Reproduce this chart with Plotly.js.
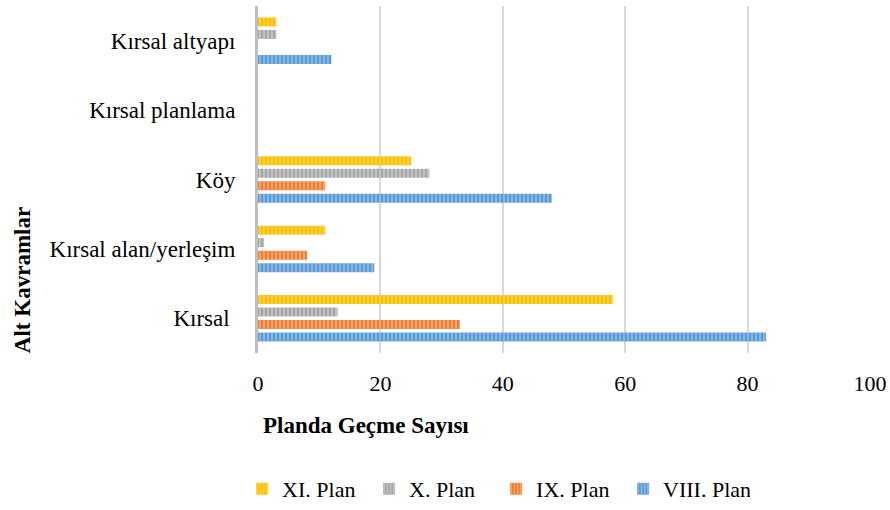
<!DOCTYPE html>
<html>
<head>
<meta charset="utf-8">
<script src="https://cdn.plot.ly/plotly-3.0.1.min.js"></script>
</head>
<body style="margin:0;background:#fff">
<div id="chart" style="width:890px;height:510px"></div>
<script>
const categories = ["Kırsal ", "Kırsal alan/yerleşim", "Köy", "Kırsal planlama", "Kırsal altyapı"];
const seriesNames = ["VIII. Plan", "IX. Plan", "X. Plan", "XI. Plan"];
const planVIII = [83, 19, 48, 0, 12];
const planIX = [33, 8, 11, 0, 0];
const planX = [13, 1, 28, 0, 3];
const planXI = [58, 11, 25, 0, 3];
const xTicks = [0, 20, 40, 60, 80, 100];

const baseColors = ["#5B9BD5", "#ED7D31", "#A5A5A5", "#FFC000"];
const stripeColors = ["#8DB9E4", "#F4A775", "#C6C6C6", "#FFD34D"];
const values = [planVIII, planIX, planX, planXI];

const FF = "Liberation Serif";
const FS = 22;
const FL = 23;

const traces = values.map((v, i) => ({
  type: "bar",
  orientation: "h",
  name: seriesNames[i],
  y: categories,
  x: v,
  marker: {
    color: baseColors[i],
    line: {width: 0},
    pattern: {shape: "|", fgcolor: stripeColors[i], bgcolor: baseColors[i], size: 4, solidity: 0.45}
  },
  hoverinfo: "x+name"
}));

const layout = {
  width: 890, height: 510,
  margin: {l: 258, r: 20, t: 6, b: 157},
  paper_bgcolor: "#fff", plot_bgcolor: "#fff",
  barmode: "group",
  bargap: 0.28,
  bargroupgap: 0.28,
  font: {family: FF, size: FS, color: "#000"},
  xaxis: {
    range: [0, 100],
    tickvals: xTicks,
    ticktext: xTicks.map(String),
    showgrid: true, gridcolor: "#D9D9D9", gridwidth: 2,
    zeroline: false, showline: false,
    ticks: "", ticklabelstandoff: 15,
    tickfont: {family: FF, size: FS, color: "#000"},
    fixedrange: true
  },
  yaxis: {
    categoryorder: "array", categoryarray: categories,
    showline: true, linecolor: "#BFBFBF", linewidth: 3,
    showgrid: false, zeroline: false,
    ticks: "", ticklabelstandoff: 15,
    tickfont: {family: FF, size: FL, color: "#000"},
    fixedrange: true
  },
  showlegend: true,
  legend: {
    orientation: "h", traceorder: "reversed",
    xref: "container", yref: "container",
    x: 0.272, y: 0, xanchor: "left", yanchor: "bottom",
    entrywidth: 82, entrywidthmode: "pixels",
    font: {family: FF, size: FS, color: "#000"},
    itemclick: false, itemdoubleclick: false
  },
  annotations: [
    {text: "<b>Planda Geçme Sayısı</b>", xref: "paper", yref: "paper", x: 0, y: -0.21,
     xanchor: "left", yanchor: "middle", xshift: 3, showarrow: false,
     font: {family: FF, size: FL, color: "#000"}},
    {text: "<b>Alt Kavramlar</b>", xref: "paper", yref: "paper", x: 0, y: 0.21,
     xanchor: "center", yanchor: "middle", xshift: -236, textangle: -90, showarrow: false,
     font: {family: FF, size: FL, color: "#000"}}
  ]
};

Plotly.newPlot("chart", traces, layout, {displayModeBar: false});
</script>
</body>
</html>
